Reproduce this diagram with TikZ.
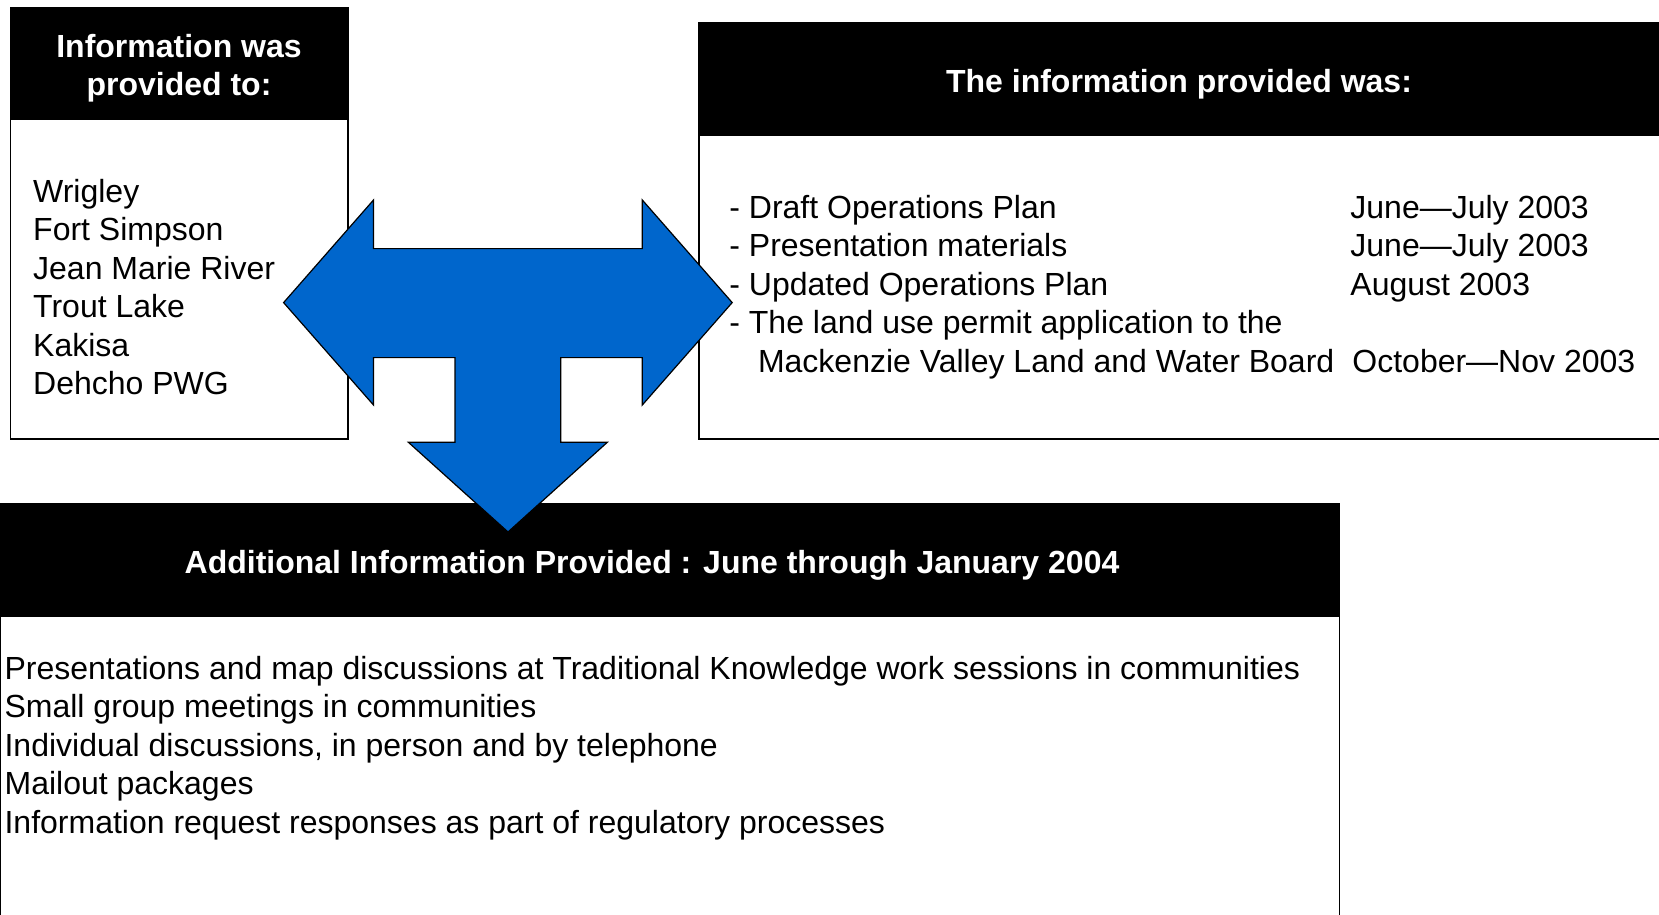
\documentclass[tikz,border=0pt]{standalone}
\usepackage{fontspec}
\setmainfont{Liberation Sans}
\definecolor{arrowblue}{RGB}{0,102,204}
\begin{document}
\begin{tikzpicture}[x=0.5pt,y=-0.5pt,
  boxline/.style={draw=black,line width=0.8pt,fill=white},
  headfill/.style={fill=black,draw=black,line width=0.8pt},
  headtxt/.style={text=white,font=\fontsize{16}{19}\selectfont\bfseries,align=center,inner sep=0pt},
  bodytxt/.style={font=\fontsize{16}{19}\selectfont,anchor=base west,inner sep=0pt},
  bigarrow/.style={fill=arrowblue,draw=black,line width=0.6pt}]
\useasboundingbox (0,0) rectangle (1659,915);
% left box
\draw[boxline] (10.6,7.4) rectangle (348,439);
\draw[headfill] (10.6,7.4) rectangle (348,119.6);
\node[headtxt] (lhead) at (179,68.5) {Information was\\provided to:};
\node[bodytxt] (l1) at (32.8,202) {Wrigley};
\node[bodytxt] (l2) at (32.8,240) {Fort Simpson};
\node[bodytxt] (l3) at (32.8,279) {Jean Marie River};
\node[bodytxt] (l4) at (32.8,317) {Trout Lake};
\node[bodytxt] (l5) at (32.8,356) {Kakisa};
\node[bodytxt] (l6) at (32.8,394) {Dehcho PWG};
% right box
\draw[boxline] (699,23.3) rectangle (1665,439);
\draw[headfill] (699,23.3) rectangle (1665,135.4);
\node[headtxt] (rhead) at (1179,84.5) {The information provided was:};
\node[bodytxt] (r1) at (729,218) {- Draft Operations Plan};
\node[bodytxt] (r2) at (729,256) {- Presentation materials};
\node[bodytxt] (r3) at (729,295) {- Updated Operations Plan};
\node[bodytxt] (r4) at (729,333) {- The land use permit application to the};
\node[bodytxt] (r5) at (757.6,372) {Mackenzie Valley Land and Water Board};
\node[bodytxt] (d1) at (1350,218) {June\textemdash July 2003};
\node[bodytxt] (d2) at (1350,256) {June\textemdash July 2003};
\node[bodytxt] (d3) at (1350,295) {August 2003};
\node[bodytxt] (d5) at (1352,372) {October\textemdash Nov 2003};
% bottom box
\draw[boxline] (0.5,503.6) rectangle (1339.5,925);
\draw[headfill] (0.5,503.6) rectangle (1339.5,615.8);
\node[headtxt] (bhead) at (652,565) {Additional Information Provided : June through January 2004};
\node[bodytxt] (b1) at (4.2,679) {Presentations and map discussions at Traditional Knowledge work sessions in communities};
\node[bodytxt] (b2) at (4.2,717) {Small group meetings in communities};
\node[bodytxt] (b3) at (4.2,756) {Individual discussions, in person and by telephone};
\node[bodytxt] (b4) at (4.2,794) {Mailout packages};
\node[bodytxt] (b5) at (4.2,833) {Information request responses as part of regulatory processes};
% three-way arrow
\draw[bigarrow] (283.6,302.6) -- (373.5,200) -- (373.5,248.6) -- (642.3,248.6) -- (642.3,200)
  -- (732.2,302.6) -- (642.3,405) -- (642.3,357.6) -- (560.8,357.6) -- (560.8,442.3)
  -- (607.3,442.3) -- (508,532) -- (408.4,442.3) -- (455,442.3) -- (455,357.6)
  -- (373.5,357.6) -- (373.5,405) -- cycle;
\end{tikzpicture}
\end{document}
